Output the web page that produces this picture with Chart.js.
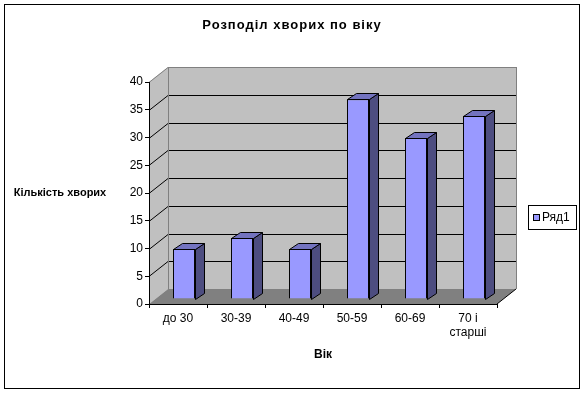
<!DOCTYPE html>
<html>
<head>
<meta charset="utf-8">
<script src="https://cdn.jsdelivr.net/npm/chart.js@4.4.1/dist/chart.umd.min.js"></script>
<style>
  html, body { margin: 0; padding: 0; background: #fff; }
  #wrap { width: 584px; height: 393px; }
</style>
</head>
<body>
<div id="wrap"><canvas id="chart" width="584" height="393"></canvas></div>
<script>
// дані
const categories = ['до 30', '30-39', '40-49', '50-59', '60-69', ['70 і', 'старші']];
const values = [9, 11, 9, 36, 29, 33];
const seriesName = 'Ряд1';
const yTicks = [0, 5, 10, 15, 20, 25, 30, 35, 40];

const chartTitle = 'Розподіл хворих по віку';
const yTitle = 'Кількість хворих';
const xTitle = 'Вік';

const FONT = '"Liberation Sans", Arial, sans-serif';
const DEPTH = { dx: 19, dy: -15 };   // зсув задньої стінки
const BAR_SHIFT = { dx: 6, dy: -5 }; // площина стовпців
const BAR_DEPTH = { dx: 9, dy: -6 };

// псевдо-3D: стінки, підлога, грані стовпців
const excel3d = {
    id: 'excel3d',
    beforeDraw(chart) {
        const { ctx, chartArea: a, scales: { y } } = chart;
        ctx.save();
        ctx.fillStyle = '#fff';
        ctx.fillRect(0, 0, chart.width, chart.height);
        ctx.strokeStyle = '#000';
        ctx.lineWidth = 1;
        ctx.strokeRect(4.5, 4.5, 575, 384);

        const bl = a.left + DEPTH.dx, br = a.right + DEPTH.dx;
        const top = y.getPixelForValue(40) + DEPTH.dy;
        const bot = y.getPixelForValue(0) + DEPTH.dy;

        // задня стінка
        ctx.fillStyle = '#c0c0c0';
        ctx.fillRect(bl, top, br - bl, bot - top);
        // ліва стінка
        ctx.beginPath();
        ctx.moveTo(a.left, a.top);
        ctx.lineTo(bl, top);
        ctx.lineTo(bl, bot);
        ctx.lineTo(a.left, a.bottom);
        ctx.closePath();
        ctx.fill();

        // лінії сітки
        yTicks.forEach(v => {
            if (v === 0) return;
            const yf = Math.round(y.getPixelForValue(v)) + 0.5;
            const yb = yf + DEPTH.dy;
            ctx.strokeStyle = v === 40 ? '#808080' : '#000';
            ctx.beginPath();
            ctx.moveTo(a.left, yf);
            ctx.lineTo(bl, yb);
            ctx.lineTo(br, yb);
            ctx.stroke();
        });
        ctx.strokeStyle = '#808080';
        ctx.beginPath();
        ctx.moveTo(Math.round(bl) + 0.5, top);
        ctx.lineTo(Math.round(bl) + 0.5, bot);
        ctx.moveTo(Math.round(br) + 0.5, top);
        ctx.lineTo(Math.round(br) + 0.5, bot);
        ctx.stroke();

        // підлога
        ctx.fillStyle = '#808080';
        ctx.beginPath();
        ctx.moveTo(a.left, a.bottom);
        ctx.lineTo(bl, bot);
        ctx.lineTo(br, bot);
        ctx.lineTo(a.right, a.bottom);
        ctx.closePath();
        ctx.fill();
        ctx.strokeStyle = '#000';
        ctx.beginPath();
        ctx.moveTo(a.right, a.bottom);
        ctx.lineTo(br, bot);
        ctx.stroke();

        // тексти
        ctx.fillStyle = '#000';
        ctx.textAlign = 'center';
        ctx.textBaseline = 'middle';
        ctx.font = 'bold 13px ' + FONT;
        ctx.letterSpacing = '1px';
        ctx.fillText(chartTitle, 292, 25);
        ctx.letterSpacing = '0px';
        ctx.font = 'bold 11px ' + FONT;
        ctx.fillText(yTitle, 60, y.getPixelForValue(20));
        ctx.font = 'bold 12px ' + FONT;
        ctx.fillText(xTitle, (a.left + a.right) / 2, 355);

        // легенда
        ctx.strokeStyle = '#000';
        ctx.strokeRect(528.5, 205.5, 48, 24);
        ctx.fillStyle = '#9999ff';
        ctx.fillRect(533, 214, 7, 7);
        ctx.strokeRect(533.5, 214.5, 6, 6);
        ctx.fillStyle = '#000';
        ctx.textAlign = 'left';
        ctx.font = '12px ' + FONT;
        ctx.fillText(chart.data.datasets[0].label, 542, 218);
        ctx.restore();
    },
    beforeDatasetsDraw(chart) {
        chart.ctx.save();
        chart.ctx.translate(BAR_SHIFT.dx, BAR_SHIFT.dy);
    },
    afterDatasetsDraw(chart) {
        const ctx = chart.ctx;
        ctx.strokeStyle = '#000';
        ctx.lineWidth = 1;
        chart.getDatasetMeta(0).data.forEach(bar => {
            const { x, y, base, width } = bar.getProps(['x', 'y', 'base', 'width'], true);
            const l = Math.round(x - width / 2) + 0.5, r = Math.round(x + width / 2) + 0.5;
            const t = Math.round(y) + 0.5, b = Math.round(base) + 0.5;
            // бічна грань
            ctx.fillStyle = '#4d4d80';
            ctx.beginPath();
            ctx.moveTo(r, t);
            ctx.lineTo(r + BAR_DEPTH.dx, t + BAR_DEPTH.dy);
            ctx.lineTo(r + BAR_DEPTH.dx, b + BAR_DEPTH.dy);
            ctx.lineTo(r, b);
            ctx.closePath();
            ctx.fill();
            ctx.stroke();
            // верхня грань
            ctx.fillStyle = '#7373bf';
            ctx.beginPath();
            ctx.moveTo(l, t);
            ctx.lineTo(l + BAR_DEPTH.dx, t + BAR_DEPTH.dy);
            ctx.lineTo(r + BAR_DEPTH.dx, t + BAR_DEPTH.dy);
            ctx.lineTo(r, t);
            ctx.closePath();
            ctx.fill();
            ctx.stroke();
        });
        ctx.restore();
    }
};

new Chart(document.getElementById('chart'), {
    type: 'bar',
    data: {
        labels: categories,
        datasets: [{
            label: seriesName,
            data: values,
            backgroundColor: '#9999ff',
            borderColor: '#000',
            borderWidth: 1,
            barPercentage: 0.38,
            categoryPercentage: 1
        }]
    },
    options: {
        responsive: false,
        animation: false,
        layout: { padding: { top: 82, right: 87, bottom: 0, left: 0 } },
        plugins: {
            legend: { display: false },
            title: { display: false },
            tooltip: { enabled: false }
        },
        scales: {
            x: {
                grid: { drawOnChartArea: false, color: '#000', tickLength: 4, offset: true },
                border: { display: true, color: '#000' },
                ticks: { color: '#000', font: { family: FONT, size: 12 }, padding: 3, maxRotation: 0 },
                afterFit(scale) { scale.height = 89; }
            },
            y: {
                min: 0,
                max: 40,
                grid: { drawOnChartArea: false, color: '#000', tickLength: 4 },
                border: { display: true, color: '#000' },
                ticks: { stepSize: 5, color: '#000', font: { family: FONT, size: 12 }, padding: 2 },
                afterFit(scale) { scale.width = 149; }
            }
        }
    },
    plugins: [excel3d]
});
</script>
</body>
</html>
